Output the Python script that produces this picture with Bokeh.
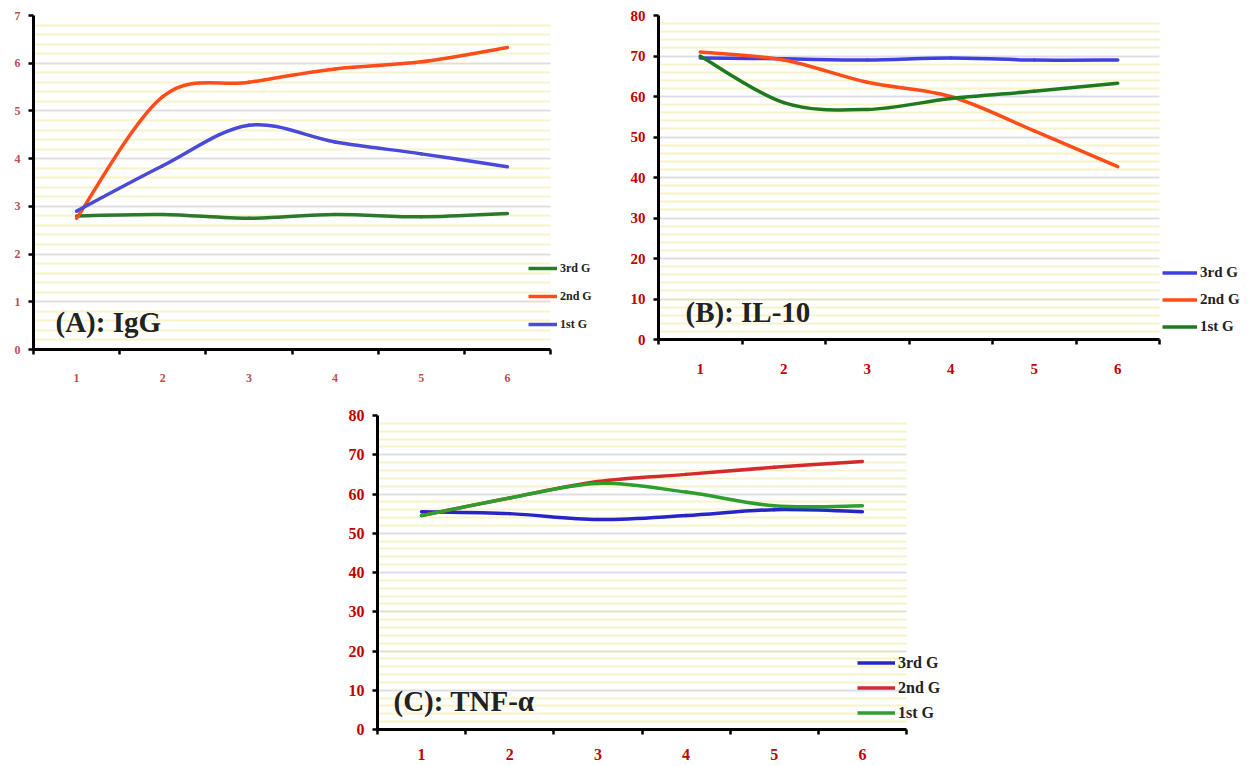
import numpy as np
from bokeh.plotting import figure
from bokeh.models import (Range1d, FixedTicker, SingleIntervalTicker, Legend,
                          LegendItem, Label, Spacer, BoxAnnotation)
from bokeh.layouts import row, column
from bokeh.embed import file_html
from bokeh.resources import INLINE

# ---------------- data ----------------
categories = ["1", "2", "3", "4", "5", "6"]

igg_3rd = [2.80, 2.83, 2.75, 2.83, 2.78, 2.85]
igg_2nd = [2.75, 5.30, 5.60, 5.88, 6.03, 6.33]
igg_1st = [2.90, 3.85, 4.70, 4.35, 4.10, 3.83]

il10_3rd = [69.5, 69.3, 69.0, 69.5, 69.0, 69.0]
il10_2nd = [71.0, 69.0, 63.5, 60.0, 51.5, 42.7]
il10_1st = [70.0, 58.5, 56.8, 59.5, 61.3, 63.3]

tnf_3rd = [55.5, 55.0, 53.5, 54.5, 56.0, 55.5]
tnf_2nd = [54.5, 59.0, 63.2, 65.0, 66.8, 68.3]
tnf_1st = [54.5, 59.0, 62.7, 60.5, 57.0, 57.0]

series_labels = ["3rd G", "2nd G", "1st G"]

FONT = "Liberation Serif"


def smooth(xs, ys):
    """Bezier segments (Catmull-Rom style smoothing like a spreadsheet chart)."""
    n = len(xs)
    pts = list(zip(xs, ys))
    out = dict(x0=[], y0=[], x1=[], y1=[], cx0=[], cy0=[], cx1=[], cy1=[])
    for i in range(n - 1):
        p0 = pts[i - 1] if i > 0 else pts[i]
        p1 = pts[i]
        p2 = pts[i + 1]
        p3 = pts[i + 2] if i + 2 < n else pts[i + 1]
        out["x0"].append(p1[0]); out["y0"].append(p1[1])
        out["x1"].append(p2[0]); out["y1"].append(p2[1])
        out["cx0"].append(p1[0] + (p2[0] - p0[0]) / 6.0)
        out["cy0"].append(p1[1] + (p2[1] - p0[1]) / 6.0)
        out["cx1"].append(p2[0] - (p3[0] - p1[0]) / 6.0)
        out["cy1"].append(p2[1] - (p3[1] - p1[1]) / 6.0)
    return out


def panel(size, borders, plot_w, ymax, ystep, series, colors, title,
          title_pos, title_size, tick_color, tick_size, xtick_size, xstand,
          leg_loc, leg_glyph_w, leg_item_h, leg_font, lw):
    w, h = size
    left, right, top, bottom = borders
    n = len(categories)
    frame_w = w - left - right
    # frame extends beyond the last category to leave room for the legend
    xmax = 0.5 + n * frame_w / plot_w
    p = figure(width=w, height=h, x_range=Range1d(0.5, xmax),
               y_range=Range1d(0, ymax), output_backend="svg",
               toolbar_location=None, min_border_left=left,
               min_border_right=right, min_border_top=top,
               min_border_bottom=bottom)
    p.outline_line_color = None
    p.background_fill_color = "white"
    p.xgrid.visible = False
    p.ygrid.level = "image"
    p.ygrid.grid_line_color = "#dcdcec"
    p.ygrid.grid_line_width = 1.5
    p.ygrid.minor_grid_line_color = "#f8f3c8"
    p.ygrid.minor_grid_line_width = 2
    # keep the grid only over the category area
    p.add_layout(BoxAnnotation(left=n + 0.5, fill_color="white", fill_alpha=1,
                               line_color=None, level="underlay"))

    # y axis
    p.yaxis.ticker = SingleIntervalTicker(interval=ystep, num_minor_ticks=5)
    p.yaxis.axis_line_color = "black"
    p.yaxis.axis_line_width = 3
    p.yaxis.major_tick_line_color = "black"
    p.yaxis.major_tick_line_width = 2.5
    p.yaxis.major_tick_out = 5
    p.yaxis.major_tick_in = 0
    p.yaxis.minor_tick_line_color = None
    p.yaxis.major_label_text_font = FONT
    p.yaxis.major_label_text_font_style = "bold"
    p.yaxis.major_label_text_color = tick_color
    p.yaxis.major_label_text_font_size = tick_size
    p.yaxis.major_label_standoff = 8

    # x axis
    xs = list(range(1, n + 1))
    p.xaxis.bounds = (0.5, n + 0.5)
    p.xaxis.ticker = FixedTicker(ticks=xs,
                                 minor_ticks=[x - 0.5 for x in xs] + [xs[-1] + 0.5])
    p.xaxis.major_label_overrides = {x: c for x, c in zip(xs, categories)}
    p.xaxis.axis_line_color = "black"
    p.xaxis.axis_line_width = 3
    p.xaxis.major_tick_line_color = None
    p.xaxis.major_tick_out = 0
    p.xaxis.major_tick_in = 0
    p.xaxis.minor_tick_line_color = "black"
    p.xaxis.minor_tick_line_width = 2.5
    p.xaxis.minor_tick_out = 5
    p.xaxis.minor_tick_in = 0
    p.xaxis.major_label_text_font = FONT
    p.xaxis.major_label_text_font_style = "bold"
    p.xaxis.major_label_text_color = tick_color
    p.xaxis.major_label_text_font_size = xtick_size
    p.xaxis.major_label_standoff = xstand

    items = []
    for ys, col, lab in zip(series, colors, series_labels):
        seg = smooth(xs, ys)
        p.bezier(line_color=col, line_width=lw, line_cap="round", **seg)
        dummy = p.line(x=[np.nan], y=[np.nan], line_color=col, line_width=lw)
        items.append(LegendItem(label=lab, renderers=[dummy]))

    leg = Legend(items=items, location=leg_loc, orientation="vertical",
                 border_line_color=None, background_fill_alpha=0,
                 padding=0, margin=0, spacing=0,
                 glyph_width=leg_glyph_w, glyph_height=leg_item_h,
                 label_height=leg_item_h, label_standoff=3,
                 label_text_font=FONT, label_text_font_style="bold",
                 label_text_font_size=leg_font, label_text_color="#222222")
    p.add_layout(leg)

    p.add_layout(Label(x=title_pos[0], y=title_pos[1], x_units="screen",
                       y_units="screen", text=title, text_font=FONT,
                       text_font_style="bold", text_font_size=title_size,
                       text_baseline="middle", text_color="#222222"))
    return p


pA = panel((620, 390), (33, 10, 15, 41), 517, 7, 1, [igg_3rd, igg_2nd, igg_1st],
           ["#2b7a2b", "#ff4d1a", "#4a4ad8"], "(A): IgG", (22, 28), "29px",
           "#c0504d", "12px", "12px", 19, (495, 11), 29, 28, "12px", 3.5)

pB = panel((628, 390), (38, 3, 15, 51), 501, 80, 10, [il10_3rd, il10_2nd, il10_1st],
           ["#3f3fe0", "#ff4d1a", "#1f7a1f"], "(B): IL-10", (27, 28), "29px",
           "#c00000", "15px", "15px", 19, (504, -1), 35, 27, "15px", 3.5)

pC = panel((668, 374), (49, 36, 25, 35), 529, 80, 10, [tnf_3rd, tnf_2nd, tnf_1st],
           ["#2626c8", "#d42a2a", "#2e9e2e"], "(C): TNF-α", (16, 29), "29px",
           "#c00000", "16px", "16px", 14, (480, 4), 38, 25, "16px", 3.5)

layout = column(row(column(pA), column(pB)),
                row(Spacer(width=328, height=10), pC))

open("out.html", "w").write(file_html(layout, INLINE))
